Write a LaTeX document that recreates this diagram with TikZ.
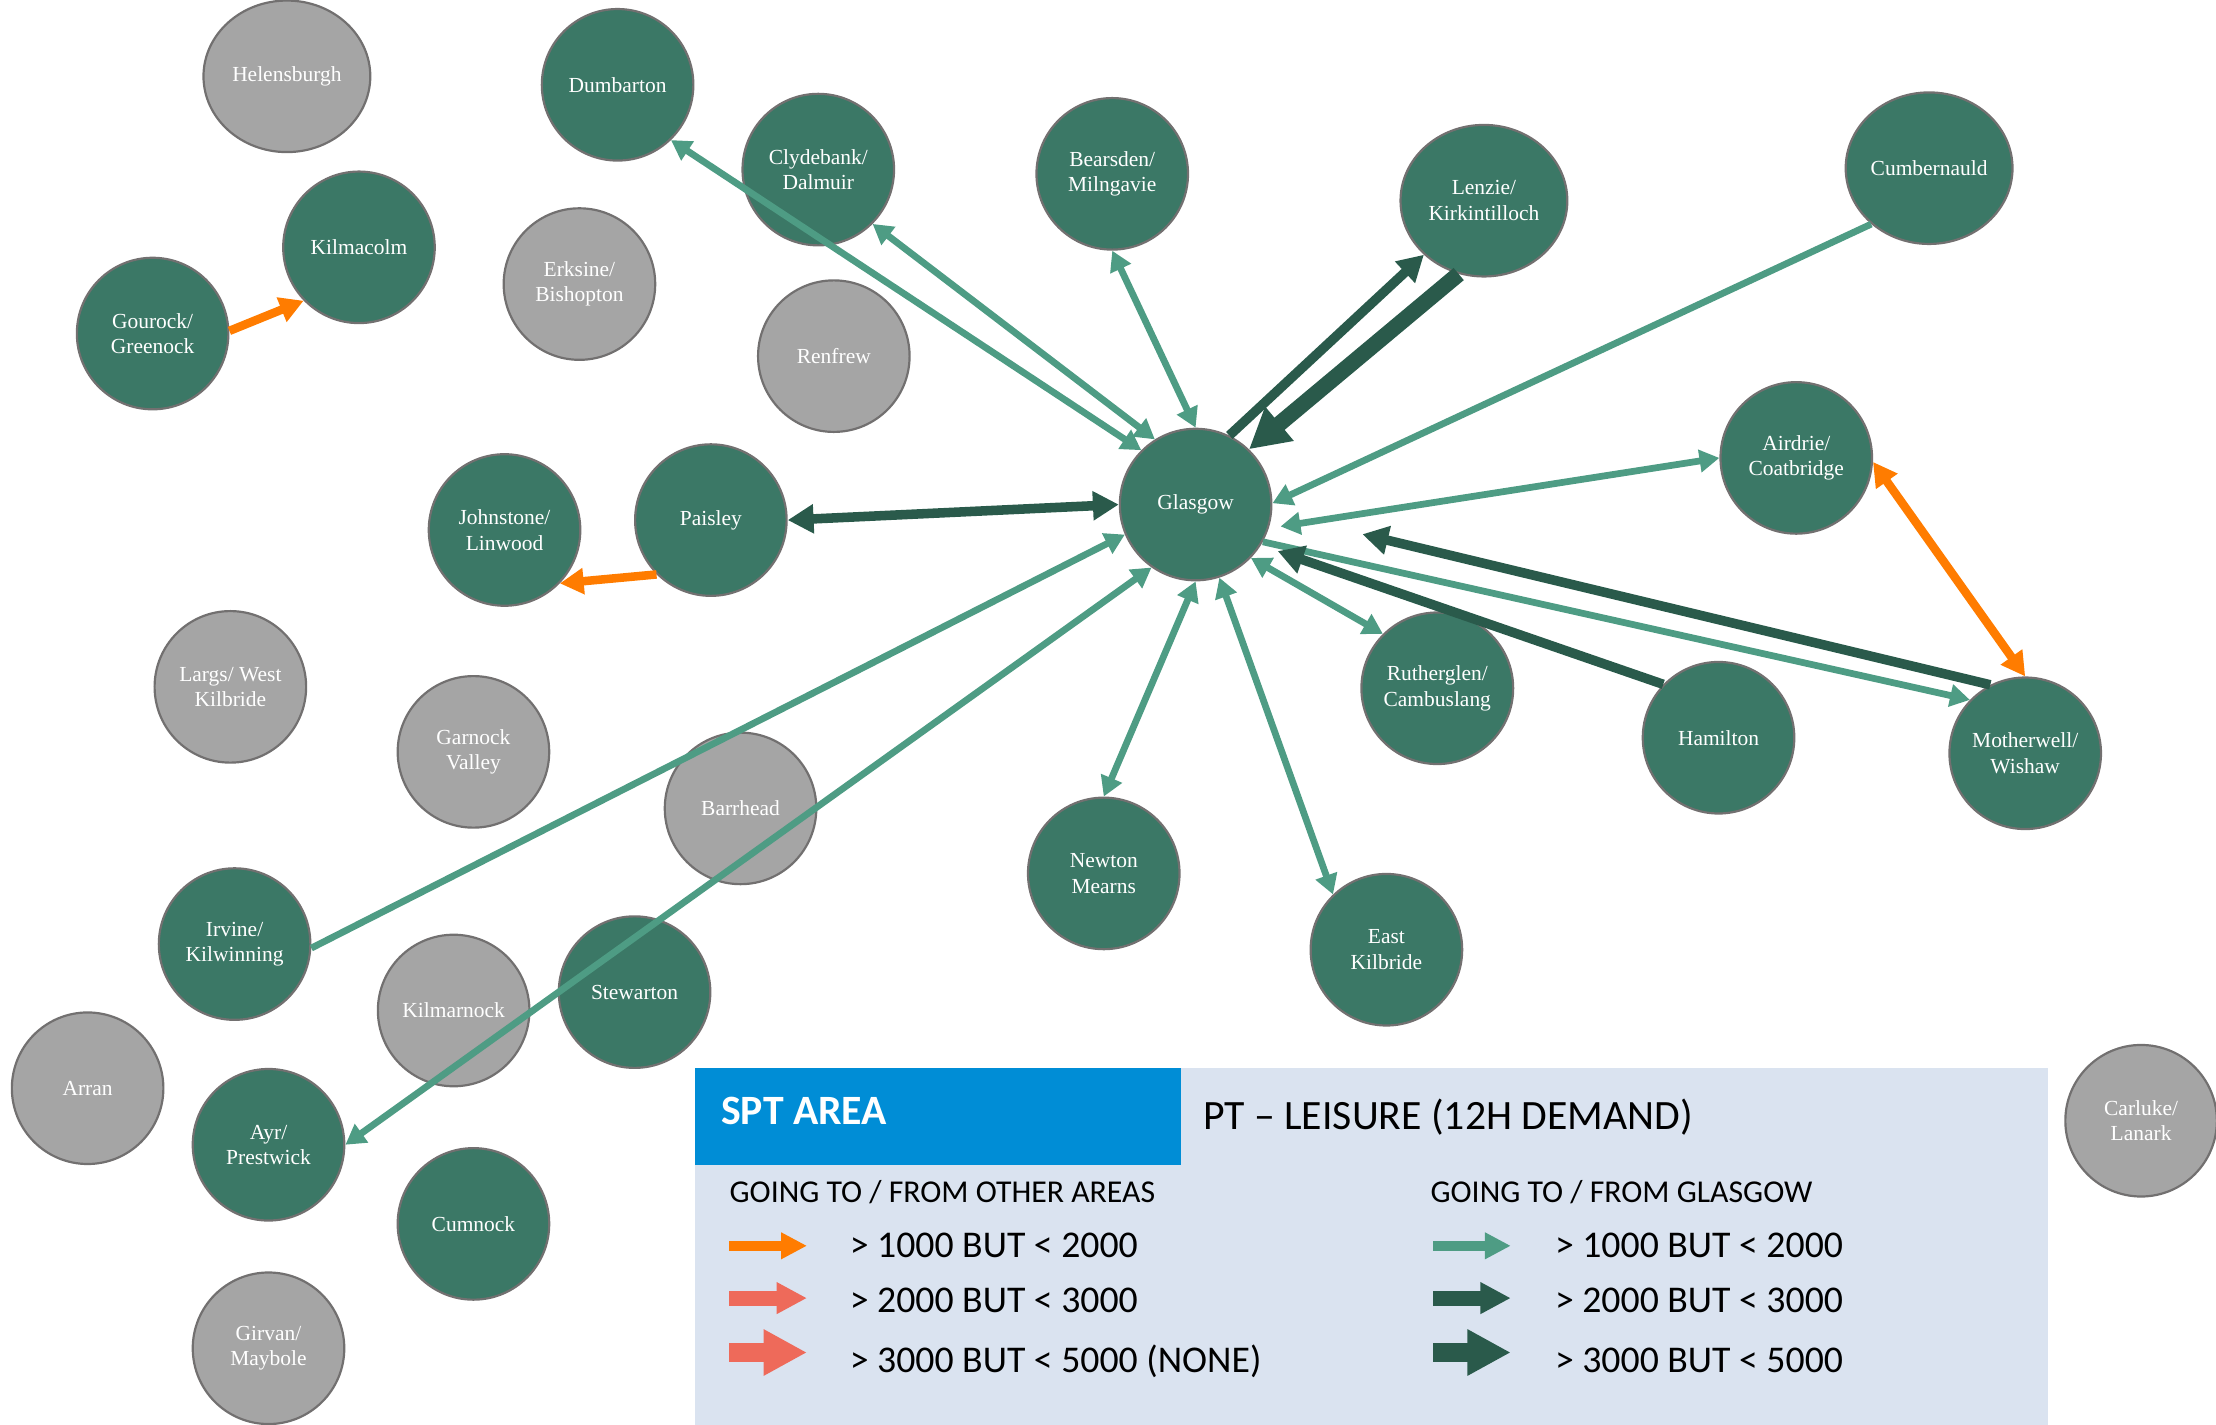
\documentclass[tikz,border=0pt]{standalone}
\usepackage{fontspec}
\setmainfont{Liberation Serif}
\newfontfamily\legendFont{Carlito}
\usepackage{tikz}
\usetikzlibrary{
    shapes.geometric,
    arrows.meta, positioning
}
\definecolor{townGreen}{HTML}{3B7866}
\definecolor{townGray}{HTML}{A5A5A5}
\definecolor{townRing}{HTML}{727070}
\definecolor{flowOrange}{HTML}{FF7C00}
\definecolor{flowSalmon}{HTML}{EE6A5A}
\definecolor{flowLight}{HTML}{4E9C84}
\definecolor{flowDark}{HTML}{2A5A4B}
\definecolor{sptBlue}{HTML}{008DD6}
\definecolor{legendBg}{HTML}{DAE3F0}
\tikzset{
    % Towns
    townBase/.style={
        ellipse, draw=townRing, line width=1.1pt, inner sep=0pt,
        minimum width=2.68cm, minimum height=2.68cm, align=center,
        text=white, font=\fontsize{10.8}{12.8}\selectfont
    },
    townActive/.style={townBase, fill=townGreen},
    townIdle/.style={townBase, fill=townGray},
    townWide/.style={minimum width=2.95cm},
    % Flows to / from other areas
    flowOther/.style={-{Triangle[width=12.6pt,length=12pt]}, line width=4.3pt, draw=flowOrange},
    flowOtherBoth/.style={flowOther, {Triangle[width=12.6pt,length=12pt]}-{Triangle[width=12.6pt,length=12pt]}},
    % Flows to / from Glasgow
    flowLow/.style={-{Triangle[width=11pt,length=10pt]}, line width=3.4pt, draw=flowLight},
    flowLowBoth/.style={flowLow, {Triangle[width=11pt,length=10pt]}-{Triangle[width=11pt,length=10pt]}},
    flowMid/.style={-{Triangle[width=14pt,length=13pt]}, line width=4.8pt, draw=flowDark},
    flowMidBoth/.style={flowMid, {Triangle[width=14pt,length=13pt]}-{Triangle[width=14pt,length=13pt]}},
    flowHigh/.style={-{Triangle[width=21pt,length=20pt]}, line width=8pt, draw=flowDark},
    % Legend
    legendTitle/.style={anchor=base west, inner sep=0pt, font=\legendFont\fontsize{21}{24}\selectfont},
    legendSub/.style={anchor=base west, inner sep=0pt, font=\legendFont\fontsize{16}{19}\selectfont},
    legendRow/.style={anchor=base west, inner sep=0pt, font=\legendFont\fontsize{19}{22}\selectfont}
}

\begin{document}
\begin{tikzpicture}[x=0.025cm, y=-0.025cm]
    \useasboundingbox (0,0) rectangle (1568,1008);

    % Legend panel
    \fill[legendBg] (492,756) rectangle (1449,1008);
    \fill[sptBlue] (492,756) rectangle (836,824);
    \node[legendTitle, text=white, font=\legendFont\bfseries\fontsize{21}{24}\selectfont] (sptArea) at (510,796) {SPT AREA};
    \node[legendTitle] (ptLeisure) at (851,799.5) {PT – LEISURE (12H DEMAND)};
    \node[legendSub] (subOther) at (516,851) {GOING TO / FROM OTHER AREAS};
    \node[legendSub] (subGlasgow) at (1012,851) {GOING TO / FROM GLASGOW};
    \foreach \yy/\lw/\hw/\hl/\colL/\colR in {881.5/5/12.6/13/flowOrange/flowLight, 918.5/7.5/15/15.3/flowSalmon/flowDark, 957/9.3/21.8/21.8/flowSalmon/flowDark} {
        \draw[draw=\colL, line width=\lw pt, -{Triangle[width=\hw pt, length=\hl pt]}] (516,\yy) -- (571,\yy);
        \draw[draw=\colR, line width=\lw pt, -{Triangle[width=\hw pt, length=\hl pt]}] (1014,\yy) -- (1069,\yy);
    }
    \node[legendRow] (rowOther1) at (601,889.5) {> 1000 BUT < 2000};
    \node[legendRow] (rowOther2) at (601,929) {> 2000 BUT < 3000};
    \node[legendRow] (rowOther3) at (601,971) {> 3000 BUT < 5000 (NONE)};
    \node[legendRow] (rowGlasgow1) at (1100,889.5) {> 1000 BUT < 2000};
    \node[legendRow] (rowGlasgow2) at (1100,929) {> 2000 BUT < 3000};
    \node[legendRow] (rowGlasgow3) at (1100,971) {> 3000 BUT < 5000};

    % Towns with no flow
    \node[townIdle, townWide] (helensburgh) at (203,54) {Helensburgh};
    \node[townIdle] (erskine) at (410,201) {Erksine/\\Bishopton};
    \node[townIdle] (renfrew) at (590,252) {Renfrew};
    \node[townIdle] (largs) at (163,486) {Largs/ West\\Kilbride};
    \node[townIdle] (garnock) at (335,532) {Garnock\\Valley};
    \node[townIdle] (barrhead) at (524,572) {Barrhead};
    \node[townIdle] (kilmarnock) at (321,715) {Kilmarnock};
    \node[townIdle] (arran) at (62,770) {Arran};
    \node[townIdle] (girvan) at (190,954) {Girvan/\\Maybole};
    \node[townIdle] (carluke) at (1515,793) {Carluke/\\Lanark};

    % Towns with flows
    \node[townActive] (glasgow) at (846,357) {Glasgow};
    \node[townActive] (dumbarton) at (437,60) {Dumbarton};
    \node[townActive] (clydebank) at (579,120) {Clydebank/\\Dalmuir};
    \node[townActive] (kilmacolm) at (254,175) {Kilmacolm};
    \node[townActive] (gourock) at (108,236) {Gourock/\\Greenock};
    \node[townActive] (bearsden) at (787,123) {Bearsden/\\Milngavie};
    \node[townActive, townWide] (lenzie) at (1050,142) {Lenzie/\\Kirkintilloch};
    \node[townActive, townWide] (cumbernauld) at (1365,119) {Cumbernauld};
    \node[townActive] (airdrie) at (1271,324) {Airdrie/\\Coatbridge};
    \node[townActive] (johnstone) at (357,375) {Johnstone/\\Linwood};
    \node[townActive] (paisley) at (503,368) {Paisley};
    \node[townActive] (rutherglen) at (1017,487) {Rutherglen/\\Cambuslang};
    \node[townActive] (hamilton) at (1216,522) {Hamilton};
    \node[townActive] (motherwell) at (1433,533) {Motherwell/\\Wishaw};
    \node[townActive] (newtonMearns) at (781,618) {Newton\\Mearns};
    \node[townActive] (eastKilbride) at (981,672) {East\\Kilbride};
    \node[townActive] (irvine) at (166,668) {Irvine/\\Kilwinning};
    \node[townActive] (stewarton) at (449,702) {Stewarton};
    \node[townActive] (ayr) at (190,810) {Ayr/\\Prestwick};
    \node[townActive] (cumnock) at (335,866) {Cumnock};
    \coordinate (motherwellTip) at (964,378);

    % Other areas
    \draw[flowOther] (gourock.2) -- (kilmacolm.224);
    \draw[flowOther] (paisley.225) -- (johnstone.316);
    \draw[flowOtherBoth] (airdrie.357) -- (motherwell.90);

    % Glasgow, 1000 - 2000
    \draw[flowLowBoth] (dumbarton.314) -- (glasgow.135);
    \draw[flowLowBoth] (clydebank.315) -- (glasgow.122);
    \draw[flowLowBoth] (bearsden.270) -- (glasgow.90);
    \draw[flowLow] (cumbernauld.224) -- (glasgow.1);
    \draw[flowLowBoth, shorten <=6pt] (glasgow.342) -- (airdrie.180);
    \draw[flowLow] (glasgow.331) -- (motherwell.136);
    \draw[flowLowBoth] (glasgow.316) -- (rutherglen.135);
    \draw[flowLowBoth] (glasgow.288) -- (eastKilbride.134);
    \draw[flowLowBoth] (glasgow.270) -- (newtonMearns.90);
    \draw[flowLow] (irvine.357) -- (glasgow.203);
    \draw[flowLowBoth] (glasgow.235) -- (ayr.0);

    % Glasgow, 2000 - 5000
    \draw[flowMid] (glasgow.64) -- (lenzie.222);
    \draw[flowHigh] (lenzie.251) -- (glasgow.46);
    \draw[flowMid] (motherwell.117) -- (motherwellTip);
    \draw[flowMid, shorten >=9pt] (hamilton.136) -- (glasgow.328);
    \draw[flowMidBoth] (paisley.0) -- (glasgow.180);
\end{tikzpicture}
\end{document}
